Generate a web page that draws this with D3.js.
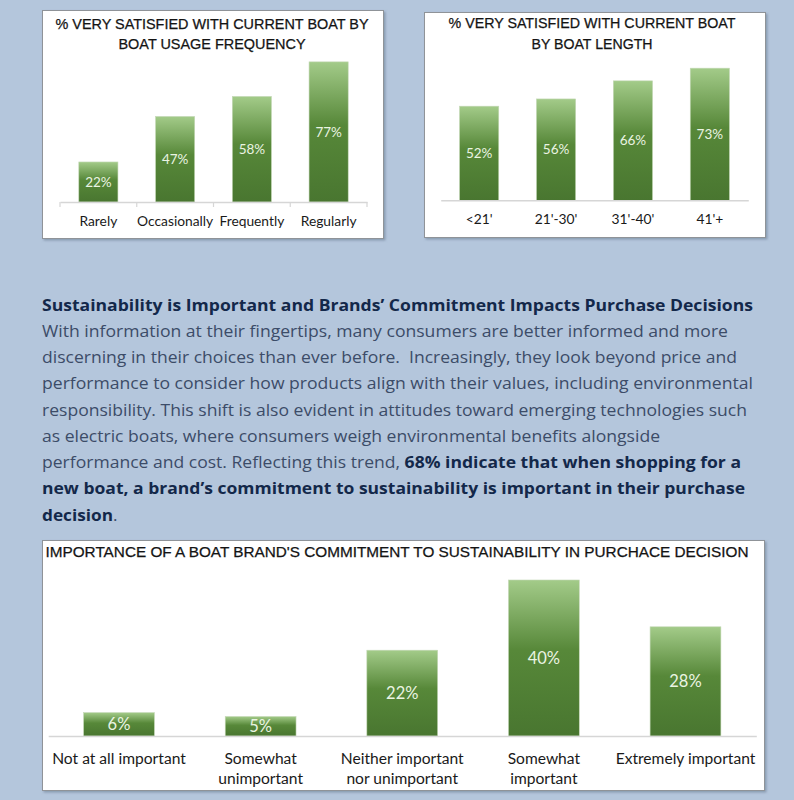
<!DOCTYPE html>
<html>
<head>
<meta charset="utf-8">
<script src="https://cdn.jsdelivr.net/npm/d3@7"></script>
<style>
  html, body { margin: 0; padding: 0; background: #b4c6dc; }
  svg { display: block; }
  text { white-space: pre; }
</style>
</head>
<body>
<svg id="chart" width="794" height="800"></svg>
<script>
// ---------- DATA ----------
const freqCategories = ["Rarely", "Occasionally", "Frequently", "Regularly"];
const freqValues = [22, 47, 58, 77];
const freqTitle = ["% VERY SATISFIED WITH CURRENT BOAT BY", "BOAT USAGE FREQUENCY"];

const lengthCategories = ["<21'", "21'-30'", "31'-40'", "41'+"];
const lengthValues = [52, 56, 66, 73];
const lengthTitle = ["% VERY SATISFIED WITH CURRENT BOAT", "BY BOAT LENGTH"];

const sustCategories = [
  ["Not at all important"],
  ["Somewhat", "unimportant"],
  ["Neither important", "nor unimportant"],
  ["Somewhat", "important"],
  ["Extremely important"]
];
const sustValues = [6, 5, 22, 40, 28];
const sustTitle = "IMPORTANCE OF A BOAT BRAND'S COMMITMENT TO SUSTAINABILITY IN PURCHACE DECISION";

const paragraphLines = [
  [["Sustainability is Important and Brands\u2019 Commitment Impacts Purchase Decisions", true]],
  [["With information at their fingertips, many consumers are better informed and more", false]],
  [["discerning in their choices than ever before.  Increasingly, they look beyond price and", false]],
  [["performance to consider how products align with their values, including environmental", false]],
  [["responsibility. This shift is also evident in attitudes toward emerging technologies such", false]],
  [["as electric boats, where consumers weigh environmental benefits alongside", false]],
  [["performance and cost. Reflecting this trend, ", false], ["68% indicate that when shopping for a", true]],
  [["new boat, a brand\u2019s commitment to sustainability is important in their purchase", true]],
  [["decision", true], [".", false]]
];
const paragraphWidths = [711, 686, 695, 711, 705, 618, 699, 703, 75.5];

// ---------- DRAW ----------
const svg = d3.select("#chart");
const defs = svg.append("defs");

const grad = defs.append("linearGradient")
  .attr("id", "barGrad").attr("x1", 0).attr("y1", 0).attr("x2", 0).attr("y2", 1);
grad.append("stop").attr("offset", "0%").attr("stop-color", "#a3cb89");
grad.append("stop").attr("offset", "45%").attr("stop-color", "#578839");
grad.append("stop").attr("offset", "100%").attr("stop-color", "#497630");

const shadow = defs.append("filter").attr("id", "shadow")
  .attr("x", "-5%").attr("y", "-5%").attr("width", "110%").attr("height", "115%");
shadow.append("feDropShadow").attr("dx", 1.5).attr("dy", 1.5)
  .attr("stdDeviation", 1).attr("flood-color", "#6b7c92").attr("flood-opacity", 0.6);

function panel(x0, y0, x1, y1) {
  svg.append("rect")
    .attr("x", x0 + 0.5).attr("y", y0 + 0.5)
    .attr("width", x1 - x0).attr("height", y1 - y0)
    .attr("fill", "#ffffff")
    .attr("stroke", "#8f9398").attr("stroke-width", 1)
    .attr("filter", "url(#shadow)");
}

function drawChart(opts) {
  const g = svg.append("g");
  const x = d3.scaleBand()
    .domain(opts.categories.map((c, i) => i))
    .range(opts.xRange)
    .paddingInner(opts.padInner).paddingOuter(opts.padInner / 2);
  const y = d3.scaleLinear().domain(opts.yDomain).range(opts.yRange);

  // Title
  opts.title.forEach((t, i) => {
    g.append("text")
      .attr("x", opts.titleX).attr("y", opts.titleY[i])
      .attr("text-anchor", "middle")
      .attr("font-family", "'Liberation Sans', Arial, sans-serif")
      .attr("font-size", opts.titleSize)
      .attr("fill", "#141414")
      .attr("stroke", "#141414").attr("stroke-width", 0.25)
      .attr("textLength", opts.titleWidths[i])
      .attr("lengthAdjust", "spacingAndGlyphs")
      .text(t);
  });

  // Bars
  g.selectAll("rect.bar")
    .data(opts.values)
    .join("rect")
    .attr("class", "bar")
    .attr("x", (d, i) => x(i))
    .attr("y", d => y(d))
    .attr("width", x.bandwidth())
    .attr("height", d => y(0) - y(d))
    .attr("fill", "url(#barGrad)")
    .attr("stroke", "#c4d8b6").attr("stroke-width", 0.6);

  // Value labels (centered in bar)
  g.selectAll("text.val")
    .data(opts.values)
    .join("text")
    .attr("class", "val")
    .attr("x", (d, i) => x(i) + x.bandwidth() / 2)
    .attr("y", d => (y(d) + y(0)) / 2 + opts.valSize * 0.36)
    .attr("text-anchor", "middle")
    .attr("font-family", "Lato, 'Open Sans', sans-serif")
    .attr("font-size", opts.valSize)
    .attr("fill", "#eaf4e2")
    .text(d => d + "%");

  // Axis
  const axis = d3.axisBottom(x).tickSize(0).tickPadding(0).tickFormat("");
  const ax = g.append("g").attr("transform", `translate(0,${y(0)})`).call(axis);
  ax.select(".domain").attr("stroke", "#d6d6d6").attr("stroke-width", 1.5);
  ax.selectAll(".tick").remove();

  if (opts.edgeTicks) {
    const r0 = x.range()[0];
    g.selectAll("line.edge")
      .data(d3.range(opts.categories.length + 1))
      .join("line")
      .attr("class", "edge")
      .attr("x1", i => r0 + i * x.step()).attr("x2", i => r0 + i * x.step())
      .attr("y1", y(0)).attr("y2", y(0) + 5)
      .attr("stroke", "#d6d6d6").attr("stroke-width", 1.2);
  }

  // Category labels
  opts.categories.forEach((c, i) => {
    const lines = Array.isArray(c) ? c : [c];
    const t = g.append("text")
      .attr("text-anchor", "middle")
      .attr("font-family", "Lato, 'Open Sans', sans-serif")
      .attr("font-size", opts.catSize)
      .attr("fill", "#1a1a1a");
    lines.forEach((ln, j) => {
      t.append("tspan")
        .attr("x", x(i) + x.bandwidth() / 2)
        .attr("y", opts.catY + j * opts.catLine)
        .text(ln);
    });
  });
}

// Panel 1
panel(42, 10, 383, 238);
drawChart({
  categories: freqCategories, values: freqValues,
  xRange: [60, 367], padInner: 0.49,
  yDomain: [0, 100], yRange: [202, 20],
  title: freqTitle, titleX: 212, titleY: [29, 49], titleWidths: [313, 187], titleSize: 14.5,
  valSize: 13.5, catSize: 13.8, catY: 226, catLine: 18, edgeTicks: true
});

// Panel 2
panel(424, 12, 765, 237);
drawChart({
  categories: lengthCategories, values: lengthValues,
  xRange: [440.7, 748.3], padInner: 0.49,
  yDomain: [0, 100], yRange: [200.3, 19.3],
  title: lengthTitle, titleX: 592, titleY: [27.5, 48.5], titleWidths: [287, 121], titleSize: 14.5,
  valSize: 13.5, catSize: 13.8, catY: 224, catLine: 18, edgeTicks: false
});

// Paragraph
paragraphLines.forEach((segs, i) => {
  const t = svg.append("text")
    .attr("x", 42)
    .attr("y", 310.5 + i * 26.25)
    .attr("font-family", "'Open Sans', 'Noto Sans', sans-serif")
    .attr("font-size", 16.5)
    .attr("textLength", paragraphWidths[i])
    .attr("lengthAdjust", "spacingAndGlyphs");
  segs.forEach(([s, bold]) => {
    t.append("tspan")
      .attr("font-weight", bold ? 700 : 400)
      .attr("fill", bold ? "#13284a" : "#3c4c68")
      .text(s);
  });
});

// Panel 3
panel(42, 540, 764, 790);
drawChart({
  categories: sustCategories, values: sustValues,
  xRange: [48.2, 756.3], padInner: 0.5,
  yDomain: [0, 50], yRange: [736, 541],
  title: [sustTitle], titleX: 397, titleY: [556.7], titleWidths: [703], titleSize: 14.5,
  valSize: 16.5, catSize: 15.6, catY: 763.5, catLine: 20.5, edgeTicks: false
});
</script>
</body>
</html>
